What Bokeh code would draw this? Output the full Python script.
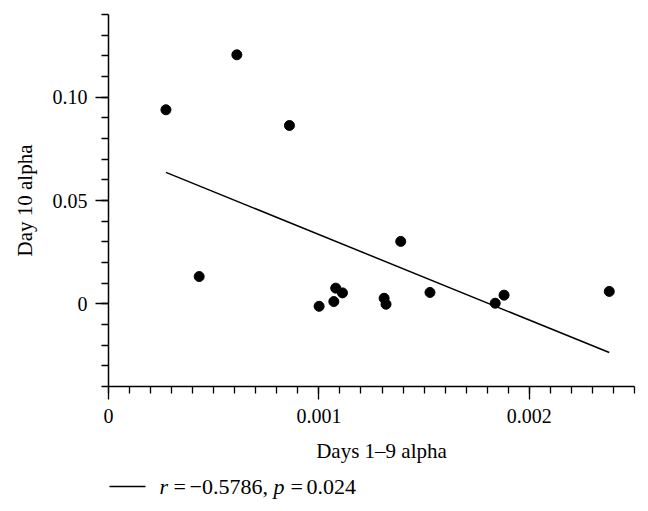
import numpy as np
from bokeh.plotting import figure
from bokeh.layouts import column
from bokeh.models import Range1d, FixedTicker
from bokeh.core.properties import value
from bokeh.embed import file_html
from bokeh.resources import INLINE

# ---- data ----
days_1_9_alpha = [0.000273, 0.000431, 0.000610, 0.000860, 0.001001, 0.001071,
                  0.001080, 0.001112, 0.001310, 0.001319, 0.001389, 0.001528,
                  0.001838, 0.001880, 0.002380]
day_10_alpha = [0.0939, 0.0132, 0.1205, 0.0863, -0.0012, 0.0011,
                0.0076, 0.0053, 0.0027, -0.0002, 0.0302, 0.0055,
                0.0003, 0.0042, 0.0060]
x_major = [0, 0.001, 0.002]
x_labels = ["0", "0.001", "0.002"]
y_major = [0, 0.05, 0.1]
y_labels = ["0", "0.05", "0.10"]
legend_italic = ["r", "p"]
legend_plain = ["=", "\u22120.5786,", "=", "0.024"]
x_title = "Days 1\u20139 alpha"
y_title = "Day 10 alpha"

X_MIN, X_MAX = 0.0, 0.0025
Y_MIN, Y_MAX = -0.04, 0.14

# linear regression of the data
slope, intercept = np.polyfit(days_1_9_alpha, day_10_alpha, 1)
fit_x = [min(days_1_9_alpha), max(days_1_9_alpha)]
fit_y = [slope * v + intercept for v in fit_x]

FONT = "Liberation Serif"
W = 640
FL, FR = 108, 634   # frame left / right in page pixels

p = figure(width=W, height=431, output_backend="svg", toolbar_location=None,
           x_range=Range1d(X_MIN, X_MAX), y_range=Range1d(Y_MIN, Y_MAX),
           min_border_left=FL, min_border_right=W - FR, min_border_top=14,
           min_border_bottom=45)
p.outline_line_color = None
p.grid.visible = False

x_minor = list(np.round(np.arange(0, 0.00251, 0.0001), 6))
y_minor = list(np.round(np.arange(-0.04, 0.1401, 0.01), 4))
p.xaxis.ticker = FixedTicker(ticks=x_major, minor_ticks=x_minor)
p.yaxis.ticker = FixedTicker(ticks=y_major, minor_ticks=y_minor)
p.xaxis.major_label_overrides = dict(zip(x_major, x_labels))
p.yaxis.major_label_overrides = dict(zip(y_major, y_labels))

for ax in (p.xaxis, p.yaxis):
    ax.axis_line_color = "black"
    ax.axis_line_width = 1.5
    ax.major_tick_line_color = "black"
    ax.minor_tick_line_color = "black"
    ax.major_tick_line_width = 1.3
    ax.minor_tick_line_width = 1.3
    ax.major_tick_out = 13
    ax.major_tick_in = 0
    ax.minor_tick_out = 7
    ax.minor_tick_in = 0
    ax.major_label_text_font = FONT
    ax.major_label_text_font_size = "20px"
    ax.major_label_text_color = "black"
p.xaxis.major_label_standoff = 9
p.yaxis.major_label_standoff = 8
p.yaxis.axis_label = y_title
p.yaxis.axis_label_text_font = FONT
p.yaxis.axis_label_text_font_size = "21px"
p.yaxis.axis_label_text_font_style = "normal"
p.yaxis.axis_label_text_color = "black"
p.yaxis.axis_label_standoff = 13

# fit line and points
p.line(fit_x, fit_y, line_color="black", line_width=1.5)
p.scatter(days_1_9_alpha, day_10_alpha, size=10, color="black")

# ---- lower strip: x-axis title and legend (frame aligned with main plot,
#      x range expressed in page pixels) ----
H2 = 74
q = figure(width=W, height=H2, output_backend="svg", toolbar_location=None,
           x_range=Range1d(FL, FR), y_range=Range1d(H2, 0),
           x_axis_type=None, y_axis_type=None,
           min_border_left=FL, min_border_right=W - FR,
           min_border_top=0, min_border_bottom=0)
q.outline_line_color = None
q.grid.visible = False

q.text(x=[381], y=[19], text=[x_title], text_align="center",
       text_baseline="middle", text_font=value(FONT), text_font_size="21px",
       text_color="black")
q.line(x=[109, 145], y=[55, 55], line_color="black", line_width=1.5)
q.text(x=[159, 273], y=[55, 55], text=legend_italic, text_align="left",
       text_baseline="middle", text_font=value(FONT), text_font_size="22px",
       text_font_style="italic", text_color="black")
q.text(x=[173, 189, 290, 306], y=[55, 55, 55, 55], text=legend_plain,
       text_align="left", text_baseline="middle", text_font=value(FONT),
       text_font_size="22px", text_color="black")

layout = column(p, q, spacing=0)
open("out.html", "w").write(file_html(layout, INLINE))
